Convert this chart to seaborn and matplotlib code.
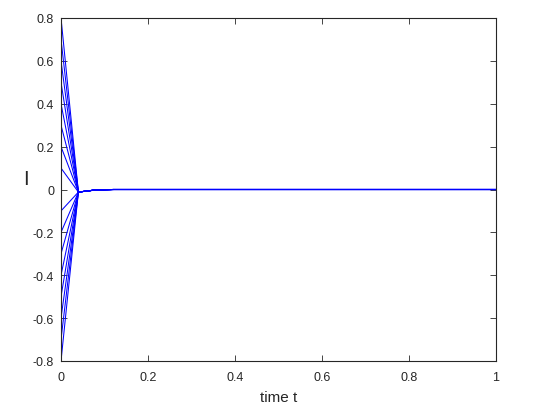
import numpy as np
import pandas as pd
import matplotlib
matplotlib.use("Agg")
import matplotlib.pyplot as plt
import seaborn as sns

# time grid and trajectories
t = [0.0, 0.04, 0.08, 0.12, 0.2, 0.4, 0.6, 0.8, 1.0]
initial_values = [0.8, 0.7, 0.6, 0.5, 0.4, 0.3, 0.2, 0.1,
                  -0.1, -0.2, -0.3, -0.4, -0.5, -0.6, -0.7, -0.8]
after_start = [-0.012, -0.002, 0.0, 0.0, 0.0, 0.0, 0.0, 0.0]

xticks = [0, 0.2, 0.4, 0.6, 0.8, 1]
xtick_labels = ["0", "0.2", "0.4", "0.6", "0.8", "1"]
yticks = [-0.8, -0.6, -0.4, -0.2, 0, 0.2, 0.4, 0.6, 0.8]
ytick_labels = ["-0.8", "-0.6", "-0.4", "-0.2", "0", "0.2", "0.4", "0.6", "0.8"]

rows = []
for k, v in enumerate(initial_values):
    for ti, val in zip(t, [v] + after_start):
        rows.append({"t": ti, "I": val, "run": k})
df = pd.DataFrame(rows)

sns.set_style("white")
plt.rcParams["font.family"] = ["Liberation Sans", "DejaVu Sans"]

fig = plt.figure(figsize=(5.38, 4.14), dpi=100)
ax = fig.add_axes([61/538, 1-362/414, (496-61)/538, (362-19)/414])

sns.lineplot(data=df, x="t", y="I", units="run", estimator=None,
             color=(0, 0, 1), linewidth=0.75, ax=ax, legend=False)

ax.set_xlim(0, 1)
ax.set_ylim(-0.8, 0.8)
ax.set_xticks(xticks)
ax.set_xticklabels(xtick_labels)
ax.set_yticks(yticks)
ax.set_yticklabels(ytick_labels)

axc = (0.15, 0.15, 0.15)
for s in ax.spines.values():
    s.set_visible(True)
    s.set_color(axc)
    s.set_linewidth(0.8)
ax.tick_params(direction="in", length=4, width=0.6, colors=axc,
               labelsize=9, top=True, right=True, bottom=True, left=True,
               labeltop=False, labelright=False)
ax.tick_params(axis="x", pad=7)
ax.tick_params(axis="y", pad=5)
for lab in ax.get_xticklabels() + ax.get_yticklabels():
    lab.set_color(axc)

ax.set_xlabel("time t", fontsize=11, color=axc, labelpad=5)
ax.set_ylabel("I", fontsize=14.5, color=axc, rotation=0, ha="center", va="center")
ax.yaxis.set_label_coords(-0.08, 0.532)

fig.savefig("out.png", dpi=100)
